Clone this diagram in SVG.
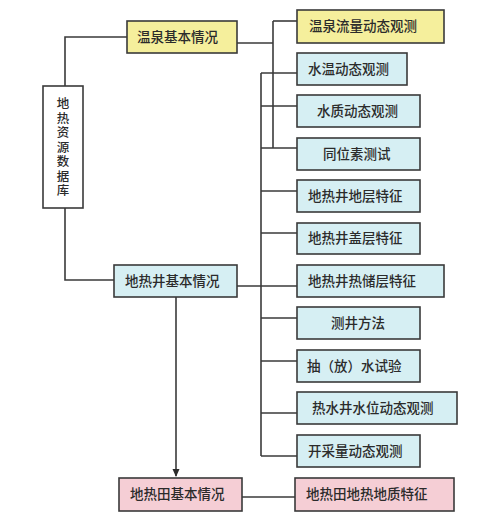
<svg xmlns="http://www.w3.org/2000/svg" width="493" height="524" viewBox="0 0 493 524">
<defs>
<style>
.b{stroke:#3a3a3a;stroke-width:1.6}
.y{fill:#f5ef9c}
.c{fill:#d6eff3}
.p{fill:#f5ced5}
.w{fill:#ffffff}
text{font-family:"Noto Sans CJK SC","Noto Sans CJK TC",sans-serif;font-size:13.5px;fill:#2b2b2b;font-weight:500}
.v{font-size:12.5px;writing-mode:vertical-rl;letter-spacing:2px}
.ln{stroke:#3a3a3a;stroke-width:1.6;fill:none}
</style>
<marker id="ah" markerWidth="8" markerHeight="8" refX="7" refY="4" orient="auto" markerUnits="userSpaceOnUse">
<path d="M0,0.5 L8,4 L0,7.5 Z" fill="#2b2b2b"/>
</marker>
</defs>
<rect width="493" height="524" fill="#ffffff"/>
<g id="connectors">
<path class="ln" d="M127,37 H65 V86"/>
<path class="ln" d="M65,208 V280 H114"/>
<path class="ln" d="M176,297 V476" marker-end="url(#ah)"/>
<path class="ln" d="M237,43 H273"/>
<path class="ln" d="M273,21 V148"/>
<path class="ln" d="M273,21 H297"/>
<path class="ln" d="M261,73 V456"/>
<path class="ln" d="M261,73 H297"/>
<path class="ln" d="M261,106 H297"/>
<path class="ln" d="M261,148 H297"/>
<path class="ln" d="M261,191 H297"/>
<path class="ln" d="M261,233 H297"/>
<path class="ln" d="M237,286 H297"/>
<path class="ln" d="M261,318 H297"/>
<path class="ln" d="M261,361 H297"/>
<path class="ln" d="M261,413 H297"/>
<path class="ln" d="M261,456 H297"/>
<path class="ln" d="M242,497 H295"/>
</g>
<g id="n_db"><rect class="b w" x="43" y="86" width="40" height="122"/>
<text class="v" x="63" y="97">地热资源数据库</text>
</g>
<g id="n_wq"><rect class="b y" x="127" y="21" width="110" height="32"/><text x="137" y="42">温泉基本情况</text></g>
<g id="n_dr"><rect class="b c" x="114" y="265" width="123" height="32"/><text x="125" y="286">地热井基本情况</text></g>
<g id="n_dt"><rect class="b p" x="119" y="478" width="123" height="33"/><text x="130" y="499">地热田基本情况</text></g>
<g id="n1"><rect class="b y" x="297" y="10" width="147" height="33"/><text x="309" y="31">温泉流量动态观测</text></g>
<g id="n2"><rect class="b c" x="297" y="53" width="110" height="32"/><text x="308" y="74">水温动态观测</text></g>
<g id="n3"><rect class="b c" x="297" y="95" width="123" height="32"/><text x="317" y="116">水质动态观测</text></g>
<g id="n4"><rect class="b c" x="297" y="138" width="123" height="32"/><text x="323" y="159">同位素测试</text></g>
<g id="n5"><rect class="b c" x="297" y="180" width="123" height="32"/><text x="308" y="201">地热井地层特征</text></g>
<g id="n6"><rect class="b c" x="297" y="223" width="123" height="31"/><text x="308" y="243">地热井盖层特征</text></g>
<g id="n7"><rect class="b c" x="297" y="265" width="147" height="32"/><text x="308" y="286">地热井热储层特征</text></g>
<g id="n8"><rect class="b c" x="297" y="307" width="123" height="32"/><text x="331" y="328">测井方法</text></g>
<g id="n9"><rect class="b c" x="297" y="350" width="123" height="32"/><text x="307" y="371">抽（放）水试验</text></g>
<g id="n10"><rect class="b c" x="297" y="392" width="160" height="32"/><text x="312" y="413">热水井水位动态观测</text></g>
<g id="n11"><rect class="b c" x="297" y="435" width="123" height="32"/><text x="308" y="456">开采量动态观测</text></g>
<g id="n12"><rect class="b p" x="295" y="478" width="159" height="33"/><text x="306" y="499">地热田地热地质特征</text></g>
</svg>
